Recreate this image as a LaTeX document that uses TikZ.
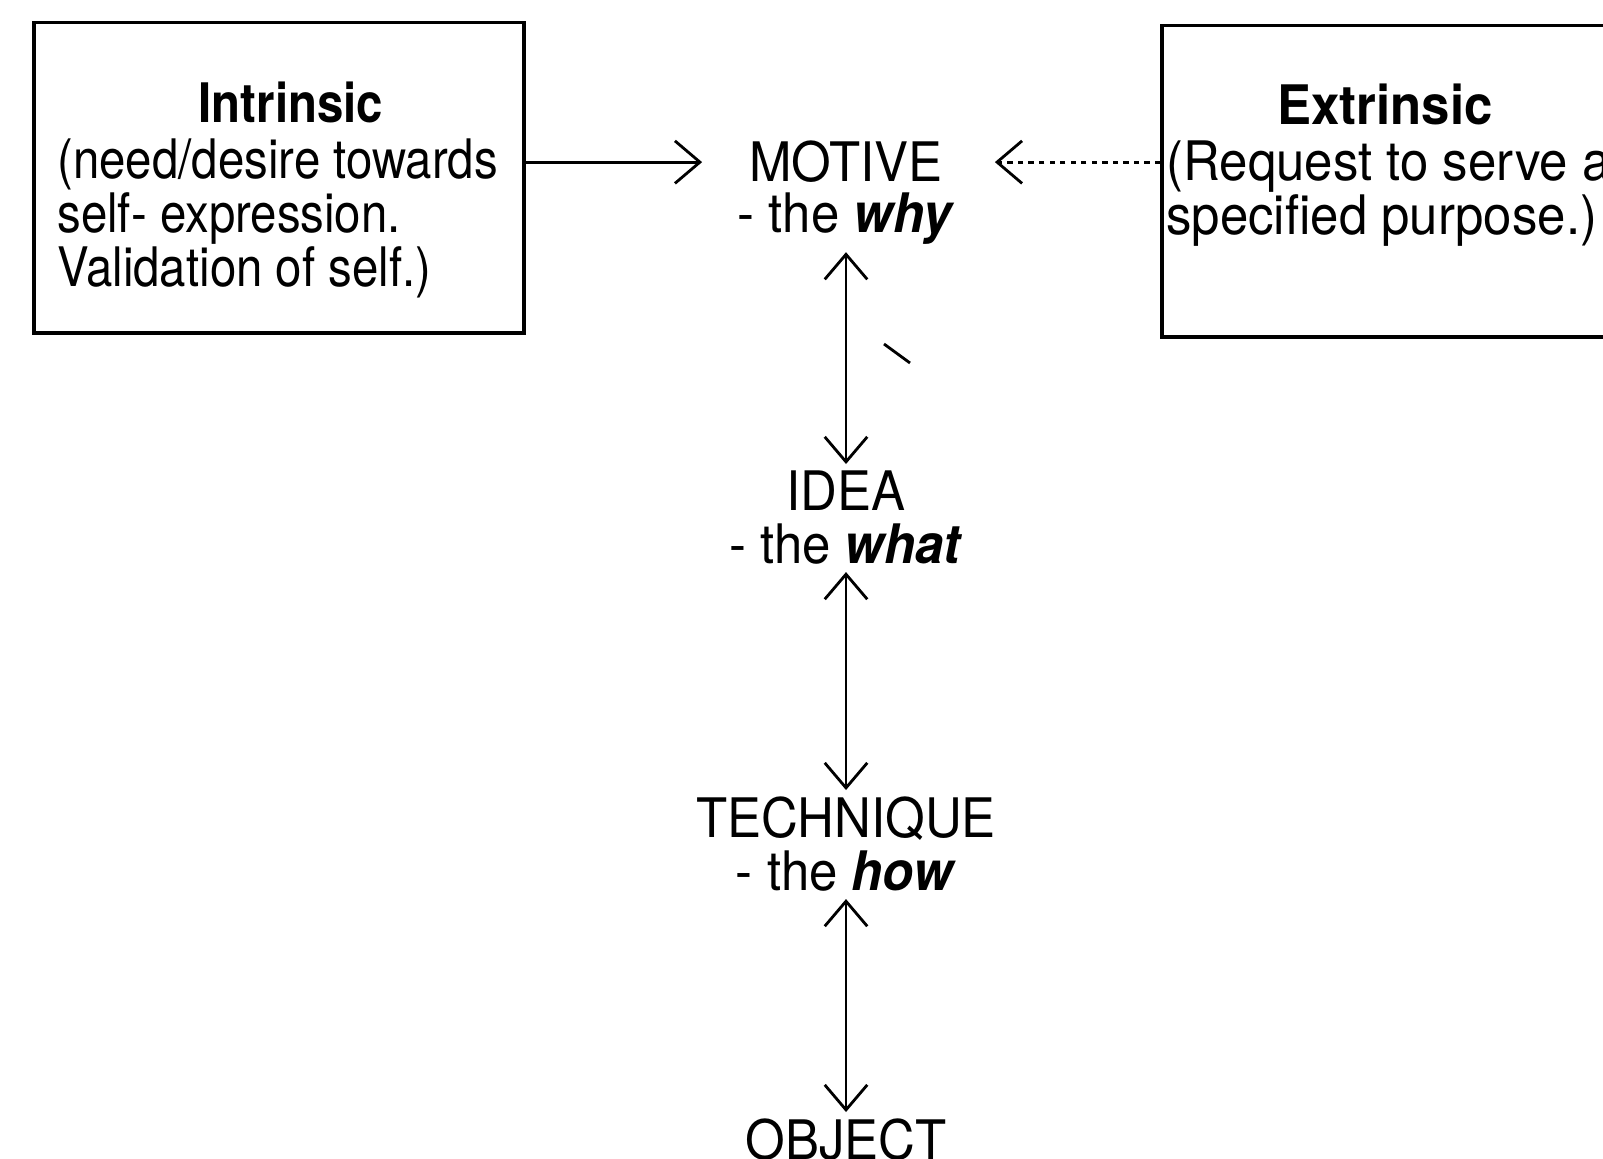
\documentclass[tikz,border=0pt]{standalone}
\usepackage{fontspec}
\setmainfont{TeX Gyre Heros}[FakeStretch=0.87]
\newfontfamily\widesans{TeX Gyre Heros}[FakeStretch=0.935]
\usetikzlibrary{arrows.meta}

\begin{document}
\begin{tikzpicture}[font=\fontsize{31}{30.7}\selectfont, line width=1.6pt,
  frame/.style={draw, line width=2pt, inner sep=0pt},
  stage/.style={anchor=base, font=\fontsize{31}{30.7}\widesans},
  boxtext/.style={anchor=north west, inner sep=0pt, align=left},
  toward/.style={-{Straight Barb[length=0.5cm,width=0.85cm]}},
  both/.style={{Straight Barb[length=0.5cm,width=0.85cm]}-{Straight Barb[length=0.5cm,width=0.85cm]}}]
  \useasboundingbox (0,0) rectangle (32.06,23.18);
  \clip (0,0) rectangle (32.06,23.18);
  % the two boxes at the top
  \node[frame, minimum width=9.8cm, minimum height=6.21cm] (intr) at (5.58,19.625) {};
  \node[stage, font=\fontsize{31}{30.7}\selectfont] (intrtitle) at (5.82,20.72) {\textbf{Intrinsic}};
  \node[boxtext] (intrtext) at (1.12,20.44) {(need/desire towards\\self- expression.\\Validation of self.)};
  \node[frame, minimum width=9.0cm, minimum height=6.23cm] (extr) at (27.74,19.555) {};
  \node[stage] (extrtitle) at (27.70,20.68) {\textbf{Extrinsic}};
  \node[boxtext, font=\fontsize{31}{30.7}\widesans] (extrtext) at (23.30,20.40) {(Request to serve a\\specified purpose.)};
  % the chain down the middle
  \node[stage] (motive) at (16.92,19.54) {MOTIVE};
  \node[stage] (why) at (16.92,18.52) {- the \textbf{\textit{why}}};
  \node[stage] (idea) at (16.92,12.96) {IDEA};
  \node[stage] (what) at (16.92,11.90) {- the \textbf{\textit{what}}};
  \node[stage] (technique) at (16.92,6.42) {TECHNIQUE};
  \node[stage] (how) at (16.92,5.36) {- the \textbf{\textit{how}}};
  \node[stage] (object) at (16.92,-0.02) {OBJECT};
  \draw[toward] (intr.east |- motive) -- ([xshift=-0.8cm]motive.west);
  \draw[toward, dashed] (extr.west |- motive) -- ([xshift=0.9cm]motive.east);
  \draw[both] (why) -- (idea);
  \draw[both] (what) -- (technique);
  \draw[both] (how) -- (object);
  \draw (17.68,16.30) -- (18.20,15.92);
\end{tikzpicture}
\end{document}
